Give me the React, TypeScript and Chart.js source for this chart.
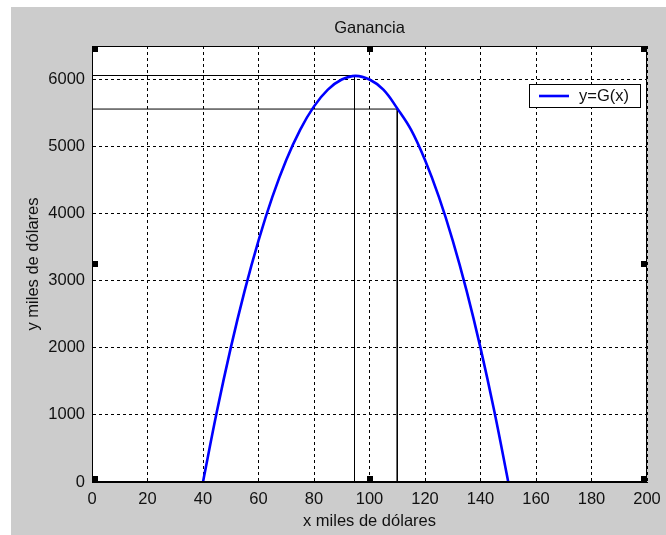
import React, { useEffect, useRef } from "react";
import { Chart, registerables } from "chart.js";

Chart.register(...registerables);

const chartTitle = "Ganancia";
const xAxisTitle = "x miles de dólares";
const yAxisTitle = "y miles de dólares";
const seriesLabel = "y=G(x)";

const xValues = [40, 45, 50, 55, 60, 65, 70, 75, 80, 85, 90, 95, 100, 105, 110, 115, 120, 125, 130, 135, 140, 145, 150];
const gValues = [0, 1050, 2000, 2850, 3600, 4250, 4800, 5250, 5600, 5850, 6000, 6055, 6000, 5850, 5570, 5250, 4800, 4250, 3600, 2850, 2000, 1050, 0];

const refX = [94.6, 110];
const refY = [6060, 5560];

const xTicks = [0, 20, 40, 60, 80, 100, 120, 140, 160, 180, 200];
const yTicks = [0, 1000, 2000, 3000, 4000, 5000, 6000];

const FONT = "'Liberation Sans', Arial, Helvetica, sans-serif";
const FS = 16.5;
const TXT = "#111";

const framePlugin = {
  id: "matlabFrame",
  beforeDraw(chart: any) {
    const { ctx, chartArea: a } = chart;
    ctx.save();
    ctx.fillStyle = "#ffffff";
    ctx.fillRect(a.left, a.top, a.right - a.left, a.bottom - a.top);
    ctx.restore();
  },
  afterDraw(chart: any) {
    const { ctx, chartArea: a } = chart;
    ctx.save();
    ctx.strokeStyle = "#000";
    ctx.lineWidth = 1;
    const L = Math.round(a.left);
    const T = Math.round(a.top);
    const R = Math.round(a.right);
    const B = Math.round(a.bottom);
    ctx.strokeRect(L + 0.5, T + 0.5, R - L - 1, B - T - 1);
    // title centred over the axes
    ctx.fillStyle = TXT;
    ctx.font = `${FS}px ${FONT}`;
    ctx.textAlign = "center";
    ctx.textBaseline = "alphabetic";
    ctx.fillText(chartTitle, (a.left + a.right) / 2, 26.3);
    // selection handles
    const s = 6;
    const mx = Math.round((a.left + a.right) / 2);
    const my = Math.round((a.top + a.bottom) / 2);
    ctx.fillStyle = "#000";
    const pts = [
      [L, T], [mx - s / 2, T], [R - s, T],
      [L, my - s / 2], [R - s, my - s / 2],
      [L, B - s], [mx - s / 2, B - s], [R - s, B - s],
    ];
    pts.forEach(([x, y]) => ctx.fillRect(x, y, s, s));
    // legend
    const ds = chart.data.datasets[0];
    const bw = 111, bh = 23;
    const bx = R - 7 - bw;
    const by = T + 38;
    ctx.fillStyle = "#fff";
    ctx.fillRect(bx, by, bw, bh);
    ctx.strokeStyle = "#000";
    ctx.lineWidth = 1;
    ctx.strokeRect(bx + 0.5, by + 0.5, bw, bh);
    ctx.strokeStyle = ds.borderColor;
    ctx.lineWidth = 2.6;
    ctx.beginPath();
    ctx.moveTo(bx + 10, by + 12);
    ctx.lineTo(bx + 40, by + 12);
    ctx.stroke();
    ctx.fillStyle = TXT;
    ctx.font = `${FS}px ${FONT}`;
    ctx.textBaseline = "middle";
    ctx.textAlign = "left";
    ctx.fillText(ds.label, bx + 50, by + 12.5);
    ctx.restore();
  },
};

export default function App() {
  const ref = useRef<HTMLCanvasElement | null>(null);
  useEffect(() => {
    if (!ref.current) return;
    Chart.defaults.font.family = FONT;
    const refSets = refX.map((x, i) => ({
      label: "ref" + i,
      data: [
        { x: 0, y: refY[i] },
        { x: x, y: refY[i] },
        { x: x, y: 0 },
      ],
      borderColor: "#000",
      borderWidth: 1,
      pointRadius: 0,
      fill: false,
      tension: 0,
    }));
    const chart = new Chart(ref.current, {
      type: "line",
      data: {
        datasets: [
          {
            label: seriesLabel,
            data: xValues.map((x, i) => ({ x, y: gValues[i] })),
            borderColor: "#0000ff",
            borderWidth: 2.6,
            pointRadius: 0,
            fill: false,
            tension: 0.4,
          },
          ...refSets,
        ],
      },
      plugins: [framePlugin],
      options: {
        animation: false,
        responsive: true,
        maintainAspectRatio: false,
        layout: { padding: { left: 0, right: 19, top: 39, bottom: 0 } },
        plugins: {
          legend: { display: false },
          tooltip: { enabled: false },
          title: { display: false },
        },
        scales: {
          x: {
            type: "linear",
            min: 0,
            max: 200,
            afterBuildTicks: (axis: any) => {
              axis.ticks = xTicks.map((v) => ({ value: v }));
            },
            afterFit: (scale: any) => {
              scale.height = 53;
              scale.paddingLeft = 0;
              scale.paddingRight = 0;
            },
            ticks: {
              color: TXT,
              font: { size: FS, family: FONT, lineHeight: 1.2 },
              padding: 8,
              maxRotation: 0,
              autoSkip: false,
              callback: (v: any) => String(v),
            },
            grid: {
              color: "#000",
              lineWidth: 1,
              drawTicks: false,
            },
            border: { display: true, color: "#000", dash: [3, 3] },
            title: {
              display: true,
              text: xAxisTitle,
              color: TXT,
              font: { size: FS, family: FONT, lineHeight: 1.2 },
              padding: { top: 0, bottom: 3.5 },
            },
          },
          y: {
            type: "linear",
            min: 0,
            max: 6500,
            afterBuildTicks: (axis: any) => {
              axis.ticks = yTicks.map((v) => ({ value: v }));
            },
            afterFit: (scale: any) => {
              scale.width = 81;
              scale.paddingTop = 0;
              scale.paddingBottom = 0;
            },
            ticks: {
              color: TXT,
              font: { size: FS, family: FONT, lineHeight: 1.2 },
              padding: 7,
              autoSkip: false,
              callback: (v: any) => String(v),
            },
            grid: {
              color: "#000",
              lineWidth: 1,
              drawTicks: false,
            },
            border: { display: true, color: "#000", dash: [3, 3] },
            title: {
              display: true,
              text: yAxisTitle,
              color: TXT,
              font: { size: FS, family: FONT, lineHeight: 1.2 },
              padding: { top: 13, bottom: 0 },
            },
          },
        },
      },
    } as any);
    return () => chart.destroy();
  }, []);
  return (
    <div
      style={{
        position: "absolute",
        left: 11,
        top: 7,
        width: 655,
        height: 528,
        background: "#cccccc",
      }}
    >
      <canvas ref={ref} />
    </div>
  );
}
